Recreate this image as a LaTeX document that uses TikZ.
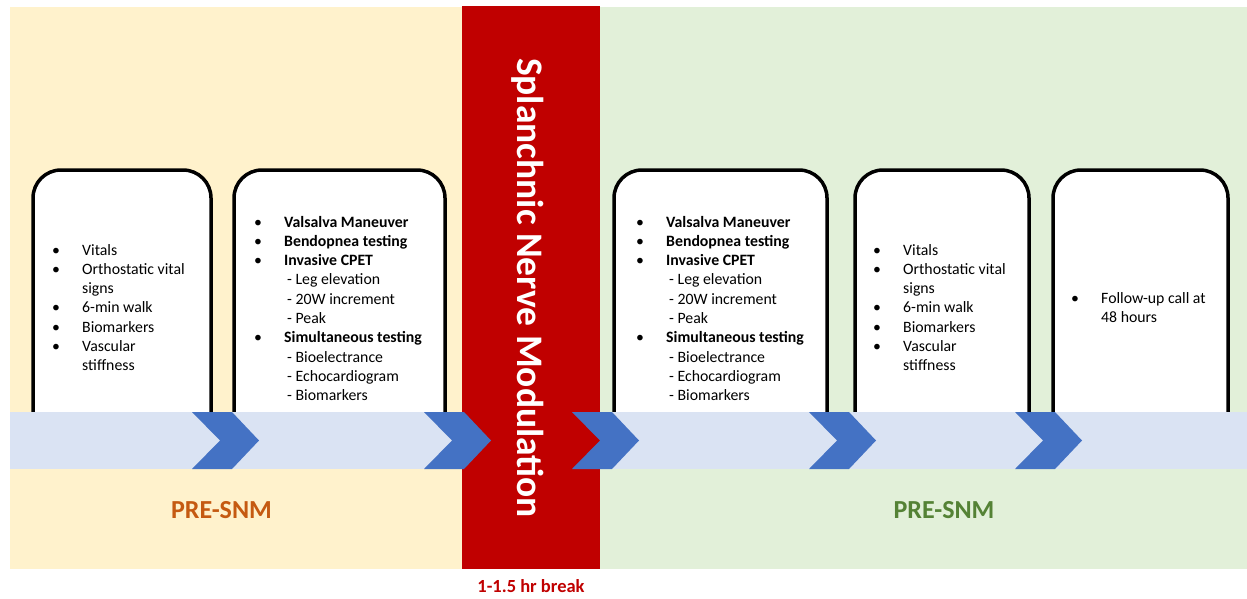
\documentclass[tikz,border=0pt]{standalone}
\usepackage{fontspec}
\setmainfont{Carlito}

\definecolor{panelYellow}{HTML}{FFF2CC}
\definecolor{panelGreen}{HTML}{E2F0D9}
\definecolor{breakRed}{HTML}{C00000}
\definecolor{bandBlue}{HTML}{DAE3F3}
\definecolor{chevBlue}{HTML}{4472C4}
\definecolor{preOrange}{HTML}{C55A11}
\definecolor{postGreen}{HTML}{548235}

% list helpers: bullet column, wrapped line, dashed sub-item
\newcommand\itm[1]{\makebox[30pt][l]{\textbullet}#1}
\newcommand\cont[1]{\hspace*{30pt}#1}
\newcommand\subitm[1]{\hspace*{33pt}- #1}

\tikzset{
  stagebox/.style={fill=white, draw=black, line width=3.5pt, rounded corners=28pt},
  chevron/.style={fill=chevBlue},
  listtext/.style={inner sep=0pt, anchor=base west,
                   font=\fontsize{15.8}{19.3}\selectfont},
  phase/.style={inner sep=0pt, anchor=base, font=\bfseries\fontsize{26}{31}\selectfont},
}

% chevron whose top-left corner sits at x = #1 on the timeline band
\newcommand\chevronat[1]{%
  \fill[chevron] (#1,412) -- ++(40,0) -- ++(27,28.5) -- ++(-27,28.5)
                 -- ++(-40,0) -- ++(28,-28.5) -- cycle;}

\begin{document}
\begin{tikzpicture}[x=1pt,y=-1pt]
  \useasboundingbox (0,0) rectangle (1247,599);

  % phase panels
  \fill[panelYellow] (10,7) rectangle (462,569);
  \fill[panelGreen]  (600,7) rectangle (1247,569);

  % stage cards (open at the bottom, tucked under the band)
  \path[stagebox] (33,440)   -- (33,170)   -- (211,170)  -- (211,440);
  \path[stagebox] (234,440)  -- (234,170)  -- (445,170)  -- (445,440);
  \path[stagebox] (614,440)  -- (614,170)  -- (827,170)  -- (827,440);
  \path[stagebox] (855,440)  -- (855,170)  -- (1029,170) -- (1029,440);
  \path[stagebox] (1053,440) -- (1053,170) -- (1228,170) -- (1228,440);

  % timeline band
  \fill[bandBlue] (10,412) rectangle (1247,469);

  % intervention bar
  \fill[breakRed] (462,6) rectangle (600,569);

  % timeline chevrons
  \chevronat{192}
  \chevronat{424}
  \chevronat{572}
  \chevronat{809}
  \chevronat{1015}

  % card contents
  \node[listtext] (baselineA) at (52,255) {\begin{tabular}[t]{@{}l@{}}
    \itm{Vitals}\\
    \itm{Orthostatic vital}\\
    \cont{signs}\\
    \itm{6-min walk}\\
    \itm{Biomarkers}\\
    \itm{Vascular}\\
    \cont{stiffness}
  \end{tabular}};

  \node[listtext] (testingA) at (254,227) {\begin{tabular}[t]{@{}l@{}}
    \itm{\textbf{Valsalva Maneuver}}\\
    \itm{\textbf{Bendopnea testing}}\\
    \itm{\textbf{Invasive CPET}}\\
    \subitm{Leg elevation}\\
    \subitm{20W increment}\\
    \subitm{Peak}\\
    \itm{\textbf{Simultaneous testing}}\\
    \subitm{Bioelectrance}\\
    \subitm{Echocardiogram}\\
    \subitm{Biomarkers}
  \end{tabular}};

  \node[listtext] (testingB) at (636,227) {\begin{tabular}[t]{@{}l@{}}
    \itm{\textbf{Valsalva Maneuver}}\\
    \itm{\textbf{Bendopnea testing}}\\
    \itm{\textbf{Invasive CPET}}\\
    \subitm{Leg elevation}\\
    \subitm{20W increment}\\
    \subitm{Peak}\\
    \itm{\textbf{Simultaneous testing}}\\
    \subitm{Bioelectrance}\\
    \subitm{Echocardiogram}\\
    \subitm{Biomarkers}
  \end{tabular}};

  \node[listtext] (baselineB) at (873,255) {\begin{tabular}[t]{@{}l@{}}
    \itm{Vitals}\\
    \itm{Orthostatic vital}\\
    \cont{signs}\\
    \itm{6-min walk}\\
    \itm{Biomarkers}\\
    \itm{Vascular}\\
    \cont{stiffness}
  \end{tabular}};

  \node[listtext] (followup) at (1071,303) {\begin{tabular}[t]{@{}l@{}}
    \itm{Follow-up call at}\\
    \cont{48 hours}
  \end{tabular}};

  % labels
  \node[rotate=-90, anchor=base, inner sep=0pt, text=white,
        font=\bfseries\fontsize{37.5}{42}\selectfont] (snm) at (517,288)
        {Splanchnic Nerve Modulation};

  \node[phase, text=preOrange] (phasePre)  at (221.5,518) {PRE-SNM};
  \node[phase, text=postGreen] (phasePost) at (944,518)   {PRE-SNM};

  \node[inner sep=0pt, anchor=base, text=breakRed,
        font=\bfseries\fontsize{18.5}{22}\selectfont] (breakLabel) at (531,592)
        {1-1.5 hr break};
\end{tikzpicture}
\end{document}
